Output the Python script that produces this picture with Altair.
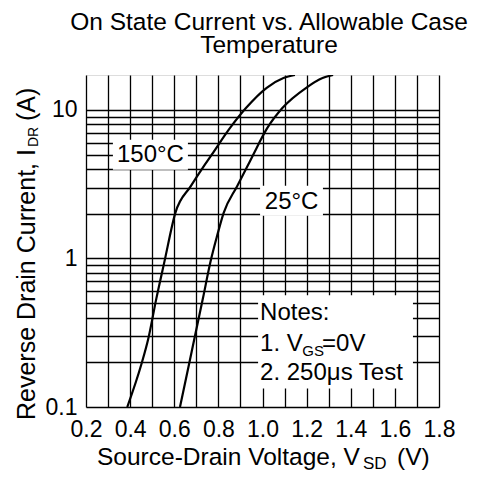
import altair as alt
import pandas as pd

# ---- data ----
v_150 = [0.387, 0.451, 0.482, 0.519, 0.556, 0.605, 0.675, 0.729, 0.770, 0.853, 0.925, 1.019, 1.095, 1.147]
i_150 = [0.1, 0.194, 0.287, 0.539, 0.96, 2.03, 3.07, 4.08, 5.0, 7.57, 10.3, 14.1, 16.4, 17.2]
v_25 = [0.626, 0.667, 0.691, 0.730, 0.765, 0.792, 0.824, 0.885, 0.928, 0.958, 1.022, 1.090, 1.198, 1.272, 1.320]
i_25 = [0.1, 0.194, 0.287, 0.539, 0.96, 1.38, 2.03, 3.07, 4.08, 5.0, 7.57, 10.3, 14.1, 16.4, 17.2]
series_names = ["150°C", "25°C"]

x_grid = [0.2, 0.3, 0.4, 0.5, 0.6, 0.7, 0.8, 0.9, 1.0, 1.1, 1.2, 1.3, 1.4, 1.5, 1.6, 1.7, 1.8]
y_grid = [0.1, 0.2, 0.3, 0.4, 0.5, 0.6, 0.7, 0.8, 0.9,
          1, 2, 3, 4, 5, 6, 7, 8, 9, 10]
x_domain = [0.2, 1.8]
y_domain = [0.1, 17.2]

title_lines = ["On State Current vs. Allowable Case", "Temperature"]
note_lines = ["Notes:", "1. V", "GS", "=0V", "2. 250μs Test"]

FONT = "Liberation Sans"
W, H = 353, 332

curves = pd.DataFrame(
    [{"V": v, "I": i, "s": series_names[0]} for v, i in zip(v_150, i_150)]
    + [{"V": v, "I": i, "s": series_names[1]} for v, i in zip(v_25, i_25)]
)

x_axis = alt.Axis(
    values=x_grid,
    labelExpr="round(datum.value*10) % 2 == 0 ? format(datum.value, '.1f') : ''",
    labelFont=FONT, labelFontSize=23, labelColor="black", labelPadding=11,
    labelOverlap=False, labelFlush=False, labelBound=False,
    grid=True, gridColor="black", gridOpacity=1, gridWidth=1.3,
    ticks=False, domain=False, title=None,
)
y_axis = alt.Axis(
    values=y_grid,
    labelExpr="datum.value == 0.1 ? '0.1' : (datum.value == 1 ? '1' : (datum.value == 10 ? '10' : ''))",
    labelFont=FONT, labelFontSize=23, labelColor="black", labelPadding=9,
    labelOverlap=False, labelFlush=False, labelBound=False,
    grid=True, gridColor="black", gridOpacity=1, gridWidth=1.3,
    ticks=False, domain=False, title=None,
)
x_scale = alt.Scale(domain=x_domain, nice=False, zero=False)
y_scale = alt.Scale(type="log", domain=y_domain, nice=False)


def xe(field="V"):
    return alt.X(f"{field}:Q", scale=x_scale, axis=x_axis)


def ye(field="I"):
    return alt.Y(f"{field}:Q", scale=y_scale, axis=y_axis)


lines = alt.Chart(curves).mark_line(
    color="black", strokeWidth=2.2, interpolate="monotone", clip=True
).encode(x=xe(), y=ye(), detail="s:N", order=alt.Order("V:Q"))

# white boxes behind annotations (data coordinates)
boxes = pd.DataFrame({
    "V": [0.322, 0.989, 0.980],
    "V2": [0.662, 1.274, 1.682],
    "I": [3.96, 1.94, 0.133],
    "I2": [6.3, 3.09, 0.565],
})
rects = alt.Chart(boxes).mark_rect(fill="white").encode(
    x=xe(), x2="V2", y=ye(), y2="I2"
)

one = pd.DataFrame({"k": [0]})


def dtext(text, v, i, size=24, align="left", baseline="alphabetic"):
    d = pd.DataFrame({"V": [v], "I": [i]})
    return alt.Chart(d).mark_text(
        text=text, font=FONT, fontSize=size, color="black", align=align, baseline=baseline
    ).encode(x=xe(), y=ye())


def ptext(text, x, y, size=24, align="left", angle=0, baseline="alphabetic"):
    return alt.Chart(one).mark_text(
        text=text, font=FONT, fontSize=size, color="black", align=align,
        baseline=baseline, angle=angle
    ).encode(x=alt.value(x), y=alt.value(y))


annotations = [
    dtext(series_names[0], 0.492, 4.99, 24, "center", "middle"),
    dtext(series_names[1], 1.132, 2.41, 24, "center", "middle"),
    dtext(note_lines[0], 0.989, 0.387),
    dtext(note_lines[1], 0.989, 0.239),
    dtext(note_lines[2], 1.180, 0.222, 15),
    dtext(note_lines[3], 1.270, 0.239),
    dtext(note_lines[4], 0.989, 0.153),
]

titles = [
    ptext(title_lines[0], 183, -45, 24.5, "center"),
    ptext(title_lines[1], 183, -22, 24.5, "center"),
    # x axis title with subscript
    ptext("Source-Drain Voltage, V", 11, 390, 24.5),
    ptext("SD", 277, 394, 17),
    ptext("(V)", 311, 390, 24.5),
    # y axis title with subscript (rotated)
    ptext("Reverse Drain Current, I", -51, 345, 25, angle=270),
    ptext("DR", -48, 72, 14, angle=270),
    ptext("(A)", -51, 46, 25, angle=270),
]

chart = alt.layer(rects, lines, *annotations, *titles).properties(
    width=W, height=H,
    autosize=alt.AutoSizeParams(type="none"),
    padding={"left": 78, "top": 67, "right": 37, "bottom": 76},
).configure_view(stroke="black", strokeWidth=1.5).configure(background="white")

chart.save("out.html", embed_options={"renderer": "svg", "actions": False})
